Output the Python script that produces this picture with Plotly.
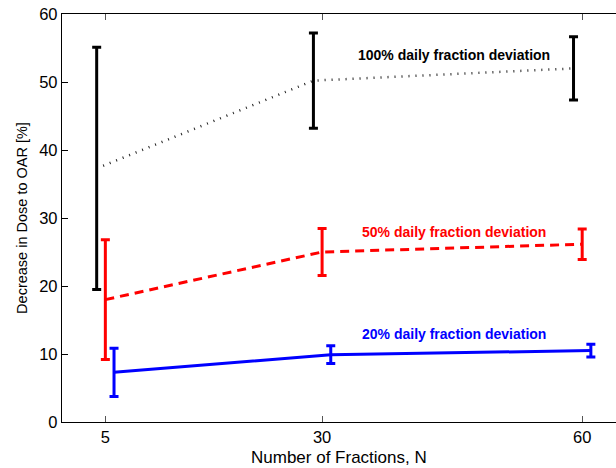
import plotly.graph_objects as go

fractions = [5, 30, 60]
offset_100 = -1
offset_50 = 0
offset_20 = 1

mean_100 = [37.3, 50.2, 52.0]
err_100 = [17.8, 7.0, 4.65]
mean_50 = [18.0, 25.0, 26.15]
err_50 = [8.8, 3.45, 2.25]
mean_20 = [7.3, 9.9, 10.5]
err_20 = [3.55, 1.3, 0.95]

labels = ["100% daily fraction deviation", "50% daily fraction deviation", "20% daily fraction deviation"]
label_x = [45.2, 45.2, 45.2]
label_y = [54.0, 27.9, 12.9]

x_ticks = [5, 30, 60]
y_ticks = [0, 10, 20, 30, 40, 50, 60]

fig = go.Figure()

series = [
    (mean_100, err_100, offset_100, "#222222", "1px,6px", 2.5),
    (mean_50, err_50, offset_50, "#ff0000", "9px,6px", 3),
    (mean_20, err_20, offset_20, "#0000ff", "solid", 3),
]
bar_colors = ["black", "#ff0000", "#0000ff"]
for (means, errs, off, color, dash, lw), bc in zip(series, bar_colors):
    xs = [f + off for f in fractions]
    fig.add_trace(go.Scatter(
        x=xs, y=means, mode="lines",
        line=dict(color=color, dash=dash, width=lw),
        showlegend=False, hoverinfo="skip"))
    fig.add_trace(go.Scatter(
        x=xs, y=means, mode="markers",
        marker=dict(size=0.1, color=bc, opacity=0),
        error_y=dict(type="data", array=errs, visible=True, color=bc, thickness=3, width=4.5),
        showlegend=False, hoverinfo="skip"))

label_colors = ["black", "#ff0000", "#0000ff"]
for txt, lx, ly, c in zip(labels, label_x, label_y, label_colors):
    fig.add_annotation(x=lx, y=ly, text="<b>" + txt + "</b>", showarrow=False,
                       font=dict(family="Liberation Sans, Arial", size=14, color=c),
                       xanchor="center", yanchor="middle")

fam = "Liberation Sans, Arial"
fig.add_annotation(x=0.5, y=-0.086, xref="paper", yref="paper", text="Number of Fractions, N",
                   showarrow=False, xanchor="center", yanchor="middle",
                   font=dict(family=fam, size=17, color="black"))

fig.update_layout(
    width=616, height=468,
    margin=dict(l=62, r=0, t=14, b=46),
    plot_bgcolor="white", paper_bgcolor="white",
    xaxis=dict(range=[0, 63.9], tickvals=x_ticks, ticks="inside", ticklen=6, tickcolor="#555",
               showline=True, linecolor="black", linewidth=1.3, mirror="ticks",
               showgrid=False, zeroline=False,
               tickfont=dict(family=fam, size=16.5, color="black")),
    yaxis=dict(range=[0, 60], tickvals=y_ticks, ticks="inside", ticklen=6, tickcolor="black",
               showline=True, linecolor="black", linewidth=1.3,
               showgrid=False, zeroline=False,
               tickfont=dict(family=fam, size=16.5, color="black"),
               title=dict(text="Decrease in Dose to OAR [%]", font=dict(family=fam, size=14.5, color="black"), standoff=8)),
)

fig.write_html("out.html")
